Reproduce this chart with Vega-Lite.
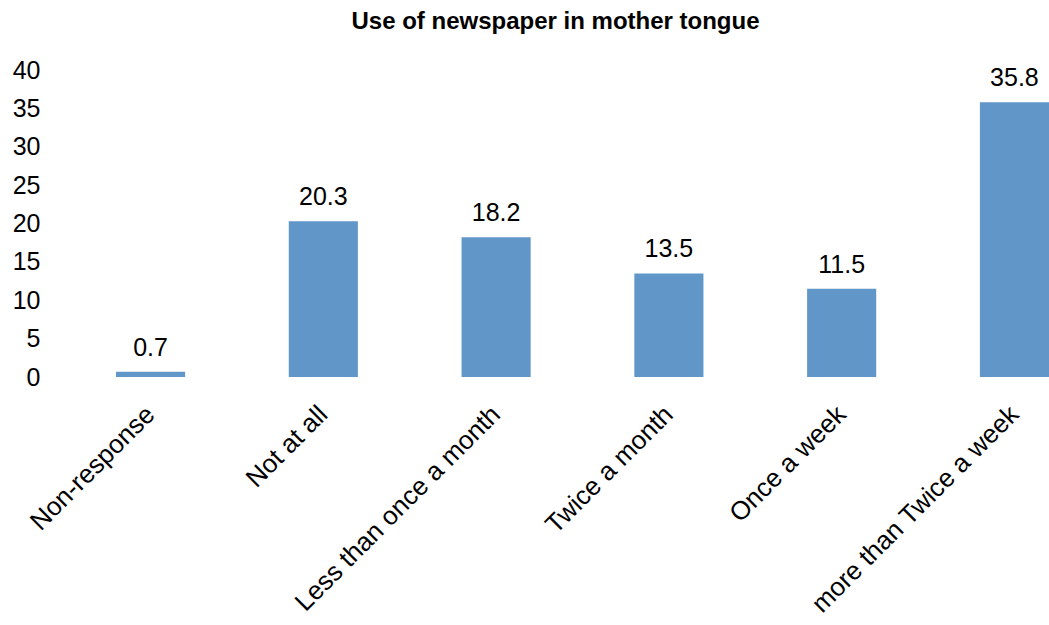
{
  "$schema": "https://vega.github.io/schema/vega-lite/v6.json",
  "autosize": "none",
  "width": 933,
  "height": 307,
  "padding": {"left": 116, "top": 70, "right": 0, "bottom": 248},
  "background": "white",
  "title": {"text": "Use of newspaper in mother tongue", "font": "Liberation Sans", "fontSize": 24, "fontWeight": "bold", "color": "black", "anchor": "middle", "dx": -27, "offset": 24},
  "data": {"values": [
    {"category": "Non-response", "value": 0.7},
    {"category": "Not at all", "value": 20.3},
    {"category": "Less than once a month", "value": 18.2},
    {"category": "Twice a month", "value": 13.5},
    {"category": "Once a week", "value": 11.5},
    {"category": "more than Twice a week", "value": 35.8}
  ]},
  "config": {"view": {"stroke": null}, "axis": {"grid": false, "domain": false, "ticks": false, "labelFont": "Liberation Sans", "labelColor": "black", "labelFontSize": 25, "title": null}},
  "encoding": {
    "x": {"field": "category", "type": "nominal", "sort": null,
      "scale": {"paddingInner": 0.6, "paddingOuter": 0},
      "axis": {"labelAngle": -45, "labelAlign": "right", "labelBaseline": "middle", "labelPadding": 33, "labelLimit": 400, "labelFontSize": 26}},
    "y": {"field": "value", "type": "quantitative", "scale": {"domain": [0, 40], "nice": false},
      "axis": {"values": [0, 5, 10, 15, 20, 25, 30, 35, 40], "labelPadding": 76, "labelAlign": "right"}}
  },
  "layer": [
    {"mark": {"type": "bar", "color": "#6196C8"}},
    {"mark": {"type": "text", "font": "Liberation Sans", "fontSize": 25, "baseline": "alphabetic", "dy": -16, "color": "black"},
     "encoding": {"text": {"field": "value", "type": "quantitative", "format": ".1f"}}}
  ]
}
